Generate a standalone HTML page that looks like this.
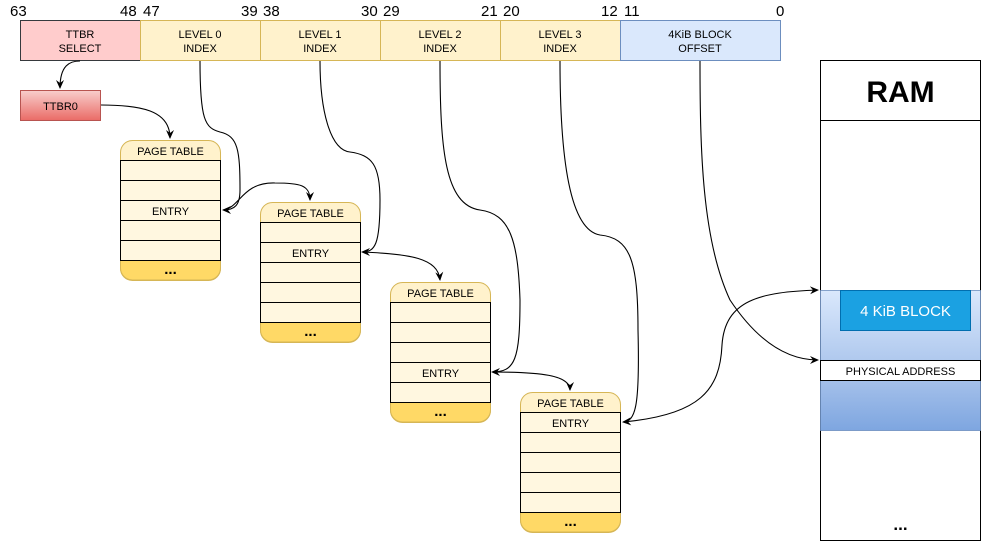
<!DOCTYPE html>
<html><head><meta charset="utf-8"><style>
html,body{margin:0;padding:0;background:#fff;}
svg{display:block;font-family:"Liberation Sans",Arial,sans-serif;}
</style></head><body>
<svg width="981" height="541" viewBox="0 0 981 541" xmlns="http://www.w3.org/2000/svg">
<defs>
<marker id="a" markerWidth="10" markerHeight="10" refX="8" refY="5" orient="auto" markerUnits="userSpaceOnUse">
<path d="M0,1 L9,5 L0,9 L3,5 Z" fill="#000"/></marker>
<linearGradient id="ttbr" x1="0" y1="0" x2="0" y2="1"><stop offset="0" stop-color="#f8cecc"/><stop offset="1" stop-color="#ea6b66"/></linearGradient>
<linearGradient id="b1" x1="0" y1="0" x2="0" y2="1"><stop offset="0" stop-color="#dae8fc"/><stop offset="1" stop-color="#b0c9ee"/></linearGradient>
<linearGradient id="b2" x1="0" y1="0" x2="0" y2="1"><stop offset="0" stop-color="#a4c0ea"/><stop offset="1" stop-color="#7ea6e0"/></linearGradient>
<g id="pt">
<rect x="0.5" y="0.5" width="100" height="140" rx="12" fill="#fff2cc" stroke="#d6b656"/>
<path d="M0.5,120 H100.5 V128 a12,12 0 0 1 -12,12 H12.5 a12,12 0 0 1 -12,-12 Z" fill="#ffd966" stroke="#d6b656"/>
<rect x="0.5" y="20.5" width="100" height="100" fill="#fff7e0" stroke="#000"/>
<path d="M0.5,40.5 H100.5 M0.5,60.5 H100.5 M0.5,80.5 H100.5 M0.5,100.5 H100.5" stroke="#000"/>
<text x="50.5" y="15" font-size="11" text-anchor="middle">PAGE TABLE</text>
<text x="50.5" y="134" font-size="15" font-weight="bold" text-anchor="middle">...</text>
</g>
</defs>
<g font-size="15" fill="#000">
<text x="10" y="16">63</text><text x="120" y="16">48</text><text x="143" y="16">47</text>
<text x="241" y="16">39</text><text x="263" y="16">38</text><text x="361" y="16">30</text>
<text x="383" y="16">29</text><text x="481" y="16">21</text><text x="503" y="16">20</text>
<text x="601" y="16">12</text><text x="624" y="16">11</text><text x="776" y="16">0</text>
</g>
<rect x="20.5" y="20.5" width="120" height="40" fill="#ffcccc" stroke="#36393d"/>
<rect x="140.5" y="20.5" width="120" height="40" fill="#fff2cc" stroke="#d6b656"/>
<rect x="260.5" y="20.5" width="120" height="40" fill="#fff2cc" stroke="#d6b656"/>
<rect x="380.5" y="20.5" width="120" height="40" fill="#fff2cc" stroke="#d6b656"/>
<rect x="500.5" y="20.5" width="120" height="40" fill="#fff2cc" stroke="#d6b656"/>
<rect x="620.5" y="20.5" width="160" height="40" fill="#dae8fc" stroke="#6c8ebf"/>
<g font-size="11" text-anchor="middle">
<text x="80" y="38">TTBR</text><text x="80" y="52">SELECT</text>
<text x="200" y="38">LEVEL 0</text><text x="200" y="52">INDEX</text>
<text x="320" y="38">LEVEL 1</text><text x="320" y="52">INDEX</text>
<text x="440" y="38">LEVEL 2</text><text x="440" y="52">INDEX</text>
<text x="560" y="38">LEVEL 3</text><text x="560" y="52">INDEX</text>
<text x="700" y="38">4KiB BLOCK</text><text x="700" y="52">OFFSET</text>
</g>
<rect x="20.5" y="90.5" width="80" height="30" fill="url(#ttbr)" stroke="#b85450"/>
<text x="60.5" y="110" font-size="11" text-anchor="middle">TTBR0</text>
<use href="#pt" x="120" y="140"/>
<use href="#pt" x="260" y="202"/>
<use href="#pt" x="390" y="282"/>
<use href="#pt" x="520" y="392"/>
<g font-size="11" text-anchor="middle">
<text x="170.5" y="215">ENTRY</text>
<text x="310.5" y="257">ENTRY</text>
<text x="440.5" y="377">ENTRY</text>
<text x="570.5" y="427">ENTRY</text>
</g>
<rect x="820.5" y="60.5" width="160" height="480" fill="#fff" stroke="#000"/>
<line x1="820.5" y1="120.5" x2="980.5" y2="120.5" stroke="#000"/>
<text x="900.5" y="102" font-size="30" font-weight="bold" text-anchor="middle">RAM</text>
<rect x="820.5" y="290.5" width="160" height="70" fill="url(#b1)" stroke="#6c8ebf" stroke-width="0.8"/>
<rect x="820.5" y="380.5" width="160" height="50" fill="url(#b2)" stroke="#6c8ebf" stroke-width="0.8"/>
<rect x="820.5" y="360.5" width="160" height="20" fill="#fff" stroke="#000"/>
<text x="900.5" y="375" font-size="11" text-anchor="middle">PHYSICAL ADDRESS</text>
<rect x="840.5" y="290.5" width="130" height="40" fill="#1ba1e2" stroke="#006eaf"/>
<text x="905.5" y="316" font-size="15" fill="#fff" text-anchor="middle">4 KiB BLOCK</text>
<text x="900.5" y="530" font-size="17" font-weight="bold" text-anchor="middle">...</text>
<g fill="none" stroke="#000" stroke-width="1.1">
<path d="M80,61 C70,61 60,65 60,88" marker-end="url(#a)"/>
<path d="M101,105 C140,105 170,110 170,138" marker-end="url(#a)"/>
<path d="M200,61 C200,120 205,128 220,132 C238,136 240,150 240,190 C240,205 235,210 223,210" marker-end="url(#a)"/>
<path d="M223,210 C240,208 242,182 275,183 C300,183 310,185 310,200" marker-end="url(#a)"/>
<path d="M320,61 C320,110 330,150 350,152 C372,155 380,165 380,200 C380,245 375,252 362,252" marker-end="url(#a)"/>
<path d="M362,252 C410,254 438,258 440,280" marker-end="url(#a)"/>
<path d="M440,61 C440,150 445,205 480,210 C510,214 518,240 520,300 C520,360 515,372 492,372" marker-end="url(#a)"/>
<path d="M492,372 C540,372 570,375 570,390" marker-end="url(#a)"/>
<path d="M560,61 C560,160 570,230 600,235 C630,238 638,260 638,330 C640,410 635,421 623,422" marker-end="url(#a)"/>
<path d="M623,422 C700,415 720,390 722,345 C725,300 760,292 818,290" marker-end="url(#a)"/>
<path d="M700,61 C700,150 702,240 730,300 C760,345 790,360 818,360" marker-end="url(#a)"/>
</g>
</svg>
</body></html>
